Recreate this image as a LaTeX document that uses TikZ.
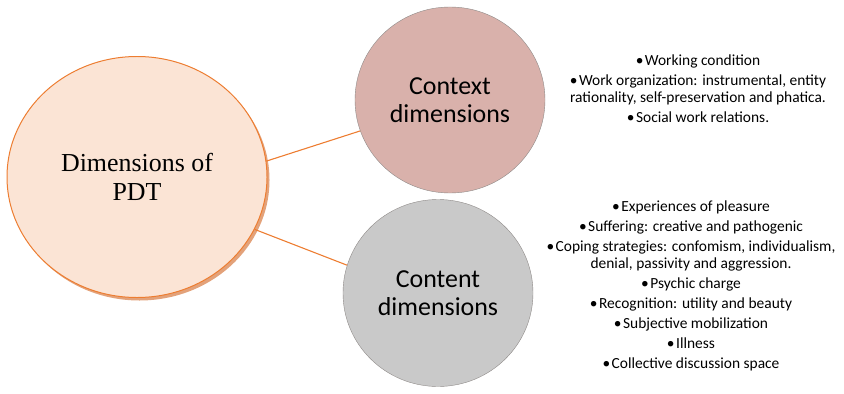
\documentclass[tikz,border=0pt]{standalone}
\usepackage{fontspec}
\setmainfont{Carlito}
\newfontfamily\pdtfont{Liberation Serif}
\usetikzlibrary{shapes.geometric}

\definecolor{pdtorange}{HTML}{ED7D31}
\definecolor{pdtfill}{HTML}{FBE4D5}
\definecolor{pdtshadow}{HTML}{E3A27A}
\definecolor{ctxfill}{HTML}{D9B1AB}
\definecolor{cntfill}{HTML}{C9C9C9}
\definecolor{rimgray}{HTML}{8E8A88}

\newcommand{\pdtitem}{\textbullet\kern1.5bp}

\tikzset{
  dimcircle/.style = {ellipse, draw = rimgray, thin, align = center,
    font = \fontsize{26}{28}\selectfont},
  itemlist/.style = {align = center, font = \fontsize{15.5}{17}\selectfont},
  link/.style = {pdtorange, line width = 1.1pt}
}

\begin{document}
\begin{tikzpicture}[x = 1bp, y = 1bp]
	 \useasboundingbox (0, 0) rectangle (844, 393);

	 % shadow below the main circle
	 \fill[pdtshadow] (139.5, 213) ellipse (130 and 120.5);
	 \node[ellipse, draw = pdtorange, fill = pdtfill, line width = 1pt,
	   minimum width = 260bp, minimum height = 241bp, align = center,
	   font = \pdtfont\fontsize{26}{29}\selectfont] (pdt) at (137, 216) {Dimensions of\\PDT};

	 \node[dimcircle, fill = ctxfill, minimum width = 190bp, minimum height = 186bp] (ctx) at (450, 293) {Context\\dimensions};
	 \node[dimcircle, fill = cntfill, minimum width = 190bp, minimum height = 187bp] (cnt) at (438, 100) {Content\\dimensions};

	 \draw[link] (pdt.7) -- (ctx.199);
	 \draw[link] (pdt.-24) -- (cnt.163);

	 \node[itemlist] (ctxlist) at (698, 304) {%
	   \pdtitem Working condition\\[3bp]
	   \pdtitem Work organization: instrumental, entity\\
	   rationality, self-preservation and phatica.\\[3bp]
	   \pdtitem Social work relations.};

	 \node[itemlist] (cntlist) at (691, 107) {%
	   \pdtitem Experiences of pleasure\\[3bp]
	   \pdtitem Suffering: creative and pathogenic\\[3bp]
	   \pdtitem Coping strategies: confomism, individualism,\\
	   denial, passivity and aggression.\\[3bp]
	   \pdtitem Psychic charge\\[3bp]
	   \pdtitem Recognition: utility and beauty\\[3bp]
	   \pdtitem Subjective mobilization\\[3bp]
	   \pdtitem Illness\\[3bp]
	   \pdtitem Collective discussion space};
\end{tikzpicture}
\end{document}
